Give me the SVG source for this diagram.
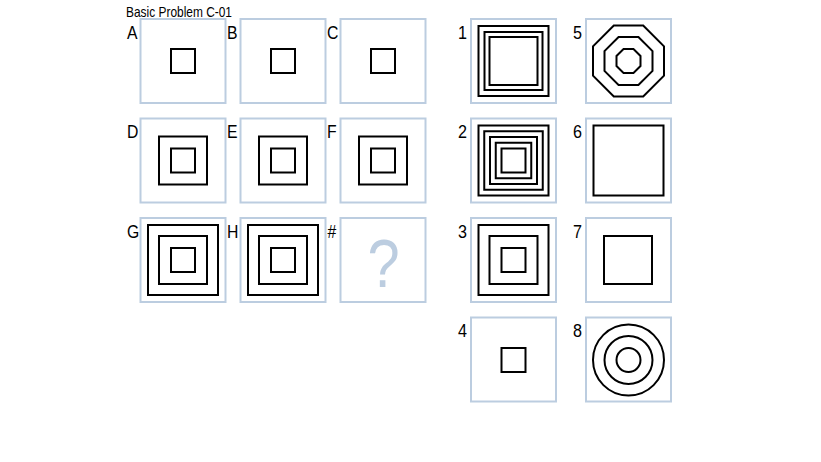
<svg xmlns="http://www.w3.org/2000/svg" xmlns:xlink="http://www.w3.org/1999/xlink" width="821" height="462" viewBox="0 0 821 462">
<style>
.frame{fill:#fff;stroke:#bccde0;stroke-width:2}
.sh{fill:none;stroke:#000;stroke-width:2}
.lbl{font-family:"Liberation Sans",Arial,sans-serif;font-size:19px;fill:#000}
.title{font-family:"Liberation Sans",Arial,sans-serif;font-size:15px;fill:#000}
.q{font-family:"Liberation Sans",Arial,sans-serif;font-size:68px;fill:#bccde0}
</style>
<defs>
<rect id="s24" class="sh" x="-12" y="-12" width="24" height="24"/>
<rect id="s48" class="sh" x="-24" y="-24" width="48" height="48"/>
<rect id="s70" class="sh" x="-35" y="-35" width="70" height="70"/>
</defs>
<rect width="821" height="462" fill="#fff"/>
<text class="title" x="126" y="16.5" textLength="106" lengthAdjust="spacingAndGlyphs">Basic Problem C-01</text>

<g id="nodeA"><rect class="frame" x="140.5" y="19" width="85" height="84"/><text class="lbl" transform="translate(127,38.5) scale(0.83,1)">A</text><use xlink:href="#s24" x="183" y="61"/></g>
<g id="nodeB"><rect class="frame" x="240.5" y="19" width="85" height="84"/><text class="lbl" transform="translate(227,38.5) scale(0.83,1)">B</text><use xlink:href="#s24" x="283" y="61"/></g>
<g id="nodeC"><rect class="frame" x="340.5" y="19" width="85" height="84"/><text class="lbl" transform="translate(327,38.5) scale(0.83,1)">C</text><use xlink:href="#s24" x="383" y="61"/></g>

<g id="nodeD"><rect class="frame" x="140.5" y="118.5" width="85" height="84"/><text class="lbl" transform="translate(127,138) scale(0.83,1)">D</text><use xlink:href="#s48" x="183" y="160.5"/><use xlink:href="#s24" x="183" y="160.5"/></g>
<g id="nodeE"><rect class="frame" x="240.5" y="118.5" width="85" height="84"/><text class="lbl" transform="translate(227,138) scale(0.83,1)">E</text><use xlink:href="#s48" x="283" y="160.5"/><use xlink:href="#s24" x="283" y="160.5"/></g>
<g id="nodeF"><rect class="frame" x="340.5" y="118.5" width="85" height="84"/><text class="lbl" transform="translate(327,138) scale(0.83,1)">F</text><use xlink:href="#s48" x="383" y="160.5"/><use xlink:href="#s24" x="383" y="160.5"/></g>

<g id="nodeG"><rect class="frame" x="140.5" y="218" width="85" height="84"/><text class="lbl" transform="translate(127,237.5) scale(0.83,1)">G</text><use xlink:href="#s70" x="183" y="260"/><use xlink:href="#s48" x="183" y="260"/><use xlink:href="#s24" x="183" y="260"/></g>
<g id="nodeH"><rect class="frame" x="240.5" y="218" width="85" height="84"/><text class="lbl" transform="translate(227,237.5) scale(0.83,1)">H</text><use xlink:href="#s70" x="283" y="260"/><use xlink:href="#s48" x="283" y="260"/><use xlink:href="#s24" x="283" y="260"/></g>
<g id="nodeQ"><rect class="frame" x="340.5" y="218" width="85" height="84"/><text class="lbl" transform="translate(327.5,237.5) scale(0.83,1)">#</text><text class="q" text-anchor="middle" transform="translate(383.5,286.5) scale(0.85,1)">?</text></g>

<g id="opt1"><rect class="frame" x="471" y="19" width="85" height="84"/><text class="lbl" transform="translate(458,38.5) scale(0.85,1)">1</text>
<rect class="sh" x="478.5" y="26" width="70" height="70"/><rect class="sh" x="484.5" y="32" width="58" height="58"/><rect class="sh" x="489.5" y="37" width="48" height="48"/></g>
<g id="opt2"><rect class="frame" x="471" y="118.5" width="85" height="84"/><text class="lbl" transform="translate(458,138) scale(0.85,1)">2</text>
<rect class="sh" x="478.5" y="125.5" width="70" height="70"/><rect class="sh" x="484.25" y="131.25" width="58.5" height="58.5"/><rect class="sh" x="490" y="137" width="47" height="47"/><rect class="sh" x="495.75" y="142.75" width="35.5" height="35.5"/><rect class="sh" x="501.5" y="148.5" width="24" height="24"/></g>
<g id="opt3"><rect class="frame" x="471" y="218" width="85" height="84"/><text class="lbl" transform="translate(458,237.5) scale(0.85,1)">3</text><use xlink:href="#s70" x="513.5" y="260"/><use xlink:href="#s48" x="513.5" y="260"/><use xlink:href="#s24" x="513.5" y="260"/></g>
<g id="opt4"><rect class="frame" x="471" y="317.5" width="85" height="84"/><text class="lbl" transform="translate(458,336.5) scale(0.85,1)">4</text><use xlink:href="#s24" x="513.5" y="360"/></g>

<g id="opt5"><rect class="frame" x="586" y="19" width="85" height="84"/><text class="lbl" transform="translate(573,38.5) scale(0.85,1)">5</text>
<polygon class="sh" points="613.8,25.5 643.2,25.5 664,46.3 664,75.7 643.2,96.5 613.8,96.5 593,75.7 593,46.3"/>
<polygon class="sh" points="618.56,37 638.44,37 652.5,51.06 652.5,70.94 638.44,85 618.56,85 604.5,70.94 604.5,51.06"/>
<polygon class="sh" points="623.53,49 633.47,49 640.5,56.03 640.5,65.97 633.47,73 623.53,73 616.5,65.97 616.5,56.03"/></g>
<g id="opt6"><rect class="frame" x="586" y="118.5" width="85" height="84"/><text class="lbl" transform="translate(573,138) scale(0.85,1)">6</text><use xlink:href="#s70" x="628.5" y="160.5"/></g>
<g id="opt7"><rect class="frame" x="586" y="218" width="85" height="84"/><text class="lbl" transform="translate(573,237.5) scale(0.85,1)">7</text><use xlink:href="#s48" x="628" y="260"/></g>
<g id="opt8"><rect class="frame" x="586" y="317.5" width="85" height="84"/><text class="lbl" transform="translate(573,336.5) scale(0.85,1)">8</text>
<circle class="sh" cx="628.5" cy="360" r="35.5"/><circle class="sh" cx="628.5" cy="360" r="24"/><circle class="sh" cx="628.5" cy="360" r="12"/></g>
<g id="connectors"/>
</svg>
